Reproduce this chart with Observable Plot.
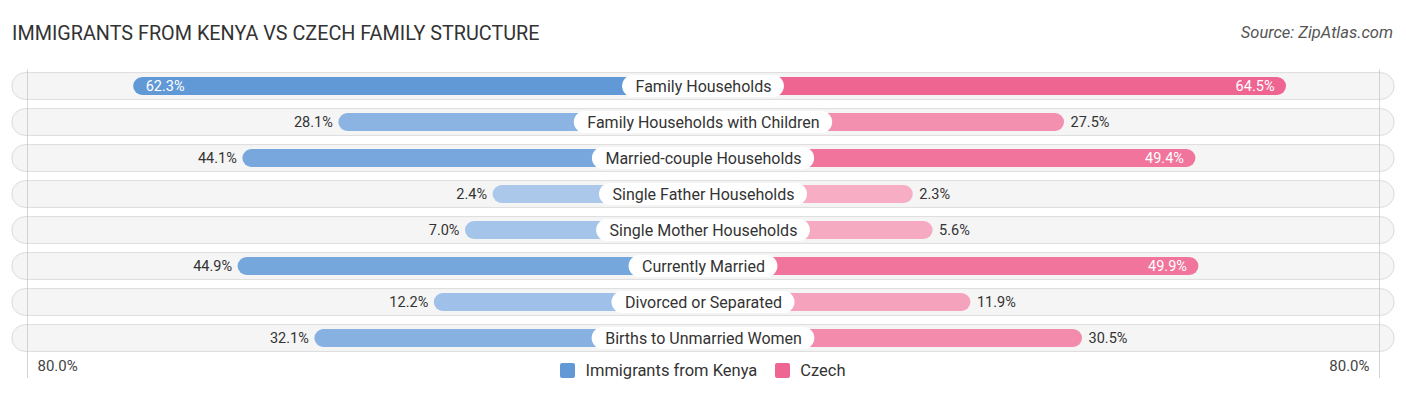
<!DOCTYPE html>
<html>
<head>
<meta charset="utf-8">
<script src="https://cdn.jsdelivr.net/npm/d3@7"></script>
<script src="https://cdn.jsdelivr.net/npm/@observablehq/plot@0.6"></script>
<style>
  body { margin: 0; background: #fff; font-family: Roboto, "Noto Sans", sans-serif; }
  #wrap { position: relative; width: 1406px; height: 395px; overflow: hidden; }
  #title { position: absolute; left: 12px; top: 23.5px; font-size: 19.8px; line-height: 1; color: #333; font-family: Roboto, sans-serif; }
  #source { position: absolute; right: 13px; top: 25px; font-size: 16.5px; line-height: 1; color: #555; font-style: italic; }
  #chart { position: absolute; left: 0; top: 60px; }
  #legend { position: absolute; left: 0; width: 1406px; top: 361px; display: flex; justify-content: center; gap: 18px; font-size: 16.5px; color: #333; }
  .item { display: flex; align-items: center; }
  .sw { width: 15px; height: 15px; border-radius: 2px; margin-right: 10px; }
</style>
</head>
<body>
<div id="wrap">
  <div id="title">IMMIGRANTS FROM KENYA VS CZECH FAMILY STRUCTURE</div>
  <div id="source">Source: ZipAtlas.com</div>
  <div id="chart"></div>
  <div id="legend"></div>
</div>
<script>
const categories = [
  "Family Households",
  "Family Households with Children",
  "Married-couple Households",
  "Single Father Households",
  "Single Mother Households",
  "Currently Married",
  "Divorced or Separated",
  "Births to Unmarried Women"
];
const kenya = [62.3, 28.1, 44.1, 2.4, 7.0, 44.9, 12.2, 32.1];
const czech = [64.5, 27.5, 49.4, 2.3, 5.6, 49.9, 11.9, 30.5];
const seriesNames = ["Immigrants from Kenya", "Czech"];
const axisTicks = [-80, 80];
const axisLabels = ["80.0%", "80.0%"];

// layout / style constants
const W = 1406, PX = 6.0;          // pixels per percentage point
const OFF = 32.67;                 // bar start offset (in % units) hidden behind the label
const HALF = (W / 2) / PX;
const BG = 115.2;
const blueDark = "#6199d6", blueLight = "#aecaec";
const pinkDark = "#ef6591", pinkLight = "#f7b1c7";
const blueC = v => d3.interpolateRgb(blueLight, blueDark)(Math.min(1, v / 62));
const pinkC = v => d3.interpolateRgb(pinkLight, pinkDark)(Math.min(1, v / 62));
const INSIDE = 46;

const ctx = document.createElement("canvas").getContext("2d");
ctx.font = "16px Roboto";
const rows = categories.map((c, i) => ({
  cat: c, kenya: kenya[i], czech: czech[i],
  pw: (ctx.measureText(c).width + 26) / PX
}));
const fmt = v => v.toFixed(1) + "%";

const plot = Plot.plot({
  width: W, height: 325,
  marginLeft: 0, marginRight: 0, marginTop: 6.5, marginBottom: 27,
  x: {domain: [-HALF, HALF], axis: null},
  y: {domain: categories, axis: null, padding: 0},
  color: {type: "identity"},
  style: {fontFamily: "Roboto, sans-serif"},
  marks: [
    Plot.barX(rows, {y: "cat", x1: () => -BG, x2: () => BG, fill: "#f5f5f5", stroke: "#dcdcdc", strokeWidth: 1, rx: 13.5, insetTop: 4.6, insetBottom: 4.6, ariaLabel: "rowbg"}),
    Plot.ruleX(axisTicks, {x: d => Math.sign(d) * (OFF + Math.abs(d)), stroke: "#c8c8c8", strokeOpacity: 0.8, insetTop: 3, insetBottom: -20}),
    Plot.barX(rows, {y: "cat", x1: () => 0, x2: d => -(OFF + d.kenya), fill: d => blueC(d.kenya), rx: 9, insetTop: 9, insetBottom: 9}),
    Plot.barX(rows, {y: "cat", x1: () => 0, x2: d => OFF + d.czech, fill: d => pinkC(d.czech), rx: 9, insetTop: 9, insetBottom: 9}),
    Plot.barX(rows, {y: "cat", x1: d => -d.pw / 2, x2: d => d.pw / 2, fill: "#fff", rx: 11, insetTop: 7, insetBottom: 7, ariaLabel: "pill"}),
    Plot.text(rows, {y: "cat", x: () => 0, text: "cat", fontSize: 16, fill: "#333"}),
    // Kenya value labels
    Plot.text(rows.filter(d => d.kenya > INSIDE), {y: "cat", x: d => -(OFF + d.kenya), text: d => fmt(d.kenya), textAnchor: "start", dx: 12, fill: "#fff", fontSize: 14.5}),
    Plot.text(rows.filter(d => d.kenya <= INSIDE), {y: "cat", x: d => -(OFF + d.kenya), text: d => fmt(d.kenya), textAnchor: "end", dx: -6, fill: "#333", fontSize: 14.5}),
    // Czech value labels
    Plot.text(rows.filter(d => d.czech > INSIDE), {y: "cat", x: d => OFF + d.czech, text: d => fmt(d.czech), textAnchor: "end", dx: -12, fill: "#fff", fontSize: 14.5}),
    Plot.text(rows.filter(d => d.czech <= INSIDE), {y: "cat", x: d => OFF + d.czech, text: d => fmt(d.czech), textAnchor: "start", dx: 6, fill: "#333", fontSize: 14.5}),
    // axis end labels
    Plot.text([0], {x: () => -(OFF + Math.abs(axisTicks[0])), text: () => axisLabels[0], frameAnchor: "bottom", textAnchor: "start", dx: 10, dy: 12, fill: "#444", fontSize: 15}),
    Plot.text([0], {x: () => OFF + axisTicks[1], text: () => axisLabels[1], frameAnchor: "bottom", textAnchor: "end", dx: -10, dy: 12, fill: "#444", fontSize: 15})
  ]
});

// subtle shadows
const svg = d3.select(plot);
const defs = svg.insert("defs", ":first-child");
const f = defs.append("filter").attr("id", "sh").attr("x", "-5%").attr("y", "-30%").attr("width", "110%").attr("height", "170%");
f.append("feDropShadow").attr("dx", 0).attr("dy", 1).attr("stdDeviation", 1.2).attr("flood-color", "#000").attr("flood-opacity", 0.12);
svg.selectAll('g[aria-label="rowbg"] rect, g[aria-label="pill"] rect').attr("filter", "url(#sh)");
document.getElementById("chart").append(plot);

const legend = document.getElementById("legend");
[[seriesNames[0], blueDark], [seriesNames[1], pinkDark]].forEach(([n, c]) => {
  const it = document.createElement("div"); it.className = "item";
  const sw = document.createElement("div"); sw.className = "sw"; sw.style.background = c;
  const t = document.createElement("span"); t.textContent = n;
  it.append(sw, t); legend.append(it);
});
</script>
</body>
</html>
